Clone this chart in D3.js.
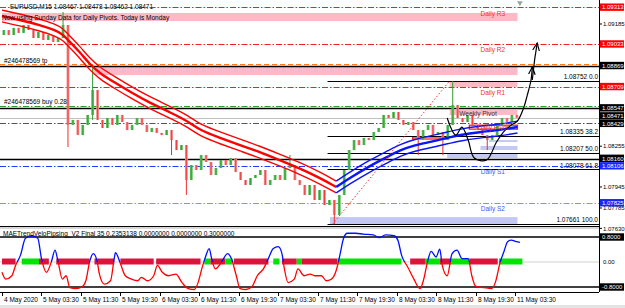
<!DOCTYPE html>
<html>
<head>
<meta charset="utf-8">
<script src="https://cdn.jsdelivr.net/npm/d3@7"></script>
<style>
    body { margin: 0; background: #fff; }
    svg text { font-family: "Liberation Sans", Arial, sans-serif; font-size: 6.5px; }
    svg text.axis-label { font-size: 6px; }
</style>
</head>
<body>
<div id="chart"></div>
<script>
// ---- data (EURUSD M15, bar index = 15 min bars from 4 May 19:30) ----
const timeLabels = ["4 May 2020", "5 May 03:30", "5 May 11:30", "5 May 19:30", "6 May 03:30", "6 May 11:30",
    "6 May 19:30", "7 May 03:30", "7 May 11:30", "7 May 19:30", "8 May 03:30", "8 May 11:30", "8 May 19:30", "11 May 03:30"];
const timeLabelBars = [0, 32, 64, 96, 128, 160, 192, 224, 256, 288, 320, 352, 384, 416];

// one drawn candle = 4 bars
const firstOpen = 1.09101;
const closes = [1.09139, 1.09101, 1.09155, 1.09117, 1.09177, 1.09139, 1.09078, 1.09124, 1.09063, 1.09101,
    1.09048, 1.09078, 1.09177, 1.08417, 1.08455, 1.08340, 1.08417, 1.08493, 1.08683, 1.08455,
    1.08394, 1.08470, 1.08417, 1.08493, 1.08439, 1.08378, 1.08417, 1.08470, 1.08417, 1.08363,
    1.08394, 1.08356, 1.08340, 1.08378, 1.08302, 1.08226, 1.08264, 1.07998, 1.08112, 1.08074,
    1.08188, 1.08135, 1.08036, 1.08089, 1.08150, 1.08112, 1.08165, 1.08059, 1.07998, 1.07960,
    1.08013, 1.08036, 1.08074, 1.07960, 1.07998, 1.08036, 1.07998, 1.08089, 1.08112, 1.07998,
    1.07960, 1.07884, 1.07960, 1.07846, 1.07922, 1.07808, 1.07846, 1.07732, 1.07884, 1.08074,
    1.08226, 1.08302, 1.08264, 1.08318, 1.08302, 1.08363, 1.08394, 1.08493, 1.08470, 1.08515,
    1.08455, 1.08417, 1.08439, 1.08378, 1.08302, 1.08378, 1.08417, 1.08340, 1.08363, 1.08302,
    1.08417, 1.08569, 1.08470, 1.08439, 1.08493, 1.08417, 1.08378, 1.08340, 1.08302, 1.08340,
    1.08417, 1.08470, 1.08439, 1.08493, 1.08471];
// [candle, high, low] for the long wicks
const wicks = [[12, 1.09276, 1.09078], [13, 1.09177, 1.08249], [18, 1.08850, 1.08455], [34, 1.08378, 1.08188],
    [37, 1.08264, 1.07884], [58, 1.08188, 1.08089], [67, 1.07846, 1.07661], [84, 1.08378, 1.08188],
    [89, 1.08363, 1.08188], [91, 1.08752, 1.08417], [98, 1.08340, 1.08226]];

const maRedBars = [0, 15, 31, 43, 49, 55, 63, 71, 79, 92, 104, 120, 136, 152, 160, 177, 193, 209, 225, 241, 258, 271];
const maRedVals = [1.09246, 1.09215, 1.09177, 1.09139, 1.09109, 1.09048, 1.08972, 1.08881, 1.08812, 1.08736, 1.08668,
    1.08584, 1.08515, 1.08439, 1.08378, 1.08318, 1.08264, 1.08211, 1.08150, 1.08089, 1.08013, 1.07945];
const maBlueBars = [271, 282, 298, 314, 323, 335, 347, 361, 371, 387, 404, 418];
const maBlueVals = [1.07945, 1.08013, 1.08104, 1.08181, 1.08226, 1.08264, 1.08287, 1.08318, 1.08340, 1.08363, 1.08378, 1.08401];
const maEnvelope = 0.00045;

const pivotNames = ["Daily R3", "Daily R2", "Daily R1", "Daily S1", "Daily S2"];
const pivotValues = [1.09313, 1.09033, 1.08709, 1.08106, 1.07825];
const dailyPivot = 1.08400;
const weeklyPivot = 1.08429;
const bidPrice = 1.08471;
const tpPrice = 1.08869;
const tpOrderLine = 1.08882;
const buyPrice = 1.08547;
const buyOrderLine = 1.08560;
const userLine = 1.08160;
const orderTicket = "#246478569";

const fibLevels = [0.0, 38.2, 50.0, 61.8, 100.0];
const fibPrices = [1.08752, 1.08335, 1.08207, 1.08078, 1.07661];
const fibStartBar = 264;
const fibTrend = [[268, 1.07661], [363, 1.08752]];

// [fromBar, toBar, priceTop, priceBottom]
const pinkZones = [[0, 418, 1.09269, 1.09208], [74, 418, 1.08865, 1.08797], [363, 418, 1.08751, 1.08706], [363, 418, 1.08531, 1.08493]];
const blueZones = [[266, 418, 1.07716, 1.07663], [361, 418, 1.08203, 1.08165], [388, 418, 1.08257, 1.08226], [395, 418, 1.08302, 1.08287]];
const redZones = [[333, 361, 1.08325, 1.08310], [379, 418, 1.08415, 1.08385]];

const sketchBars = [361, 368, 373, 378, 383, 393, 401, 408, 413, 418, 423, 426, 429, 430];
const sketchVals = [1.08470, 1.08340, 1.08401, 1.08302, 1.08165, 1.08150, 1.08287, 1.08378, 1.08417, 1.08447, 1.08546, 1.08645, 1.08759, 1.08858];
const arrowBars = [430, 432, 434];
const arrowVals = [1.08759, 1.08920, 1.09040];

const axisTicks = [1.09185, 1.08255, 1.07945, 1.07785, 1.07630];
const axisBoxes = [1.09313, 1.09033, 1.08869, 1.08709, 1.08547, 1.08471, 1.08429, 1.08160, 1.08106, 1.07825];
const axisBoxKinds = ["r", "r", "k", "r", "k", "k", "k", "k", "b", "b"];

const oscName = "MAETrendVeloPipsing_V2 Final 35 0.2353138 0.0000000 0.0000000 0.3000000";
const oscBars = [0, 3, 8, 11, 15, 19, 24, 29, 32, 36, 40, 43, 45, 49, 52, 55, 60, 65, 68, 71, 74, 77, 79, 83, 88, 91, 92, 96, 100, 105,
    110, 113, 118, 123, 126, 130, 135, 141, 146, 151, 156, 159, 162, 165, 168, 170, 173, 178, 183, 186, 190, 193, 198, 203, 207,
    212, 216, 220, 224, 227, 229, 232, 237, 240, 245, 250, 254, 259, 263, 267, 271, 274, 277, 280, 287, 293, 301, 306, 311, 318,
    321, 324, 329, 334, 339, 342, 345, 348, 352, 355, 357, 361, 365, 369, 373, 378, 381, 384, 391, 397, 400, 404, 407, 410, 413, 417, 420];
const oscVals = [-0.33, -0.55, -0.44, -0.11, 0.22, 0.76, 0.84, 0.76, 0.11, -0.33, 0, 0.38, 0.11, -0.55, -0.44, -0.82, -0.85, -0.79, -0.6, 0,
    0.27, 0.05, -0.39, -0.71, -0.6, 0.11, 0.3, -0.05, -0.44, -0.55, -0.6, -0.49, -0.6, -0.44, -0.11, -0.33, -0.44, -0.39, -0.66, -0.85,
    -0.88, -0.66, -0.22, 0.16, 0.43, 0.11, -0.22, 0, 0.27, 0.11, -0.44, -0.85, -0.88, -0.77, -0.44, -0.22, 0.11, 0.43, 0.49, 0.27,
    -0.22, -0.66, -0.55, -0.22, -0.44, -0.39, -0.44, -0.44, -0.6, -0.55, -0.27, 0.22, 0.76, 0.92, 0.92, 0.89, 0.87, 0.78, 0.87, 0.84,
    0.7, 0.22, -0.16, -0.55, -0.85, -0.55, 0, 0.34, 0.16, 0.41, -0.11, -0.44, 0.27, 0.38, 0.11, 0.11, -0.44, -0.77, -0.82, -0.85,
    -0.66, 0, 0.33, 0.65, 0.7, 0.65, 0.63];
// [fromBar, toBar, direction]
const trendBlocks = [[0, 10, -1], [16, 29, 1], [30, 37, -1], [44, 70, -1], [75, 90, -1], [96, 122, -1], [125, 160, -1],
    [164, 168, 1], [169, 180, -1], [181, 186, 1], [188, 215, -1], [220, 224, 1], [227, 238, -1], [239, 242, 1], [243, 271, -1],
    [272, 323, 1], [331, 342, -1], [343, 354, 1], [355, 363, -1], [364, 378, 1], [379, 401, -1], [403, 421, 1]];
const oscLevels = [0.8, -0.8];


class MtChart {

    constructor(parentElement) {
        this._parentElement = parentElement;
        this.initVis();
    }

    initVis() {
        let vis = this;
        vis.width = 625;
        vis.height = 308;
        vis.right = 599;
        vis.mainBottom = 226;

        vis.svg = d3.select("#" + vis._parentElement).append("svg")
            .attr("width", vis.width)
            .attr("height", vis.height);

        vis.x = d3.scaleLinear().domain([0, 416]).range([2, 515]);
        vis.y = d3.scaleLinear().domain([1.07648, 1.093676]).range([vis.mainBottom, 0]);
        vis.yOsc = d3.scaleLinear().domain([-0.8, 0.8]).range([287, 237]);

        let defs = vis.svg.append("defs");
        defs.append("clipPath").attr("id", "mainClip")
            .append("rect").attr("x", 0).attr("y", 0).attr("width", vis.right).attr("height", vis.mainBottom);
        defs.append("clipPath").attr("id", "oscClip")
            .append("rect").attr("x", 0).attr("y", 229).attr("width", vis.right).attr("height", 63);
        defs.append("clipPath").attr("id", "posClip")
            .append("rect").attr("x", 0).attr("y", 229).attr("width", vis.right).attr("height", vis.yOsc(0) - 229);
        defs.append("clipPath").attr("id", "negClip")
            .append("rect").attr("x", 0).attr("y", vis.yOsc(0)).attr("width", vis.right).attr("height", 292 - vis.yOsc(0));
        defs.append("marker").attr("id", "arrow")
            .attr("viewBox", "0 0 10 10").attr("refX", 9).attr("refY", 5)
            .attr("markerWidth", 7).attr("markerHeight", 7).attr("orient", "auto")
            .append("path").attr("d", "M0,1 L9,5 L0,9").attr("fill", "none").attr("stroke", "#000").attr("stroke-width", 1.4);

        vis.main = vis.svg.append("g").attr("clip-path", "url(#mainClip)");
        vis.osc = vis.svg.append("g").attr("clip-path", "url(#oscClip)");

        vis.drawMain();
        vis.drawOsc();
        vis.drawAxes();
    }

    hline(price, color, dash, width, fromBar) {
        let vis = this;
        let x0 = fromBar === undefined ? 0 : vis.x(fromBar);
        vis.main.append("line")
            .attr("x1", x0).attr("x2", vis.right)
            .attr("y1", Math.round(vis.y(price)) + 0.5).attr("y2", Math.round(vis.y(price)) + 0.5)
            .attr("stroke", color).attr("stroke-width", width)
            .attr("stroke-dasharray", dash);
    }

    drawMain() {
        let vis = this;
        const dashdot = "6,2,1.5,2";

        // zones
        let zone = (z, fill) => vis.main.append("rect")
            .attr("x", vis.x(z[0])).attr("width", vis.x(z[1]) - vis.x(z[0]))
            .attr("y", vis.y(z[2])).attr("height", vis.y(z[3]) - vis.y(z[2]))
            .attr("fill", fill);
        pinkZones.forEach(z => zone(z, "#ffb9c4"));
        blueZones.forEach(z => zone(z, "#c3c9f2"));
        redZones.forEach(z => zone(z, "none").attr("stroke", "#ff2020").attr("stroke-width", 1.3));

        // horizontal levels
        pivotValues.forEach((p, i) => {
            let c = i < 3 ? "#f02020" : (i === 3 ? "#1f3cff" : "#8c8cf5");
            vis.hline(p, c, dashdot, 1);
        });
        vis.hline(tpOrderLine, "#ff7a1a", "5,3", 1);
        vis.hline(tpPrice, "#000", null, 1.3);
        vis.hline(buyOrderLine, "#2aa02a", dashdot, 1);
        vis.hline(buyPrice, "#000", null, 1.3);
        vis.hline(bidPrice, "#c0c0c0", null, 1);
        vis.hline(weeklyPivot, "#555", dashdot, 1);
        vis.hline(userLine, "#000", null, 1.3);
        fibPrices.forEach(p => vis.hline(p, "#000", null, 1.2, fibStartBar));

        // candles
        let opens = closes.map((c, i) => i === 0 ? firstOpen : closes[i - 1]);
        let candles = closes.map((c, i) => ({k: i, open: opens[i], close: c}));
        let wickMap = new Map(wicks.map(w => [w[0], w]));
        let cg = vis.main.append("g");
        candles.forEach(d => {
            let up = d.close >= d.open;
            let cx = vis.x(d.k * 4 + 1.5);
            let top = vis.y(Math.max(d.open, d.close));
            let bot = vis.y(Math.min(d.open, d.close));
            if (wickMap.has(d.k)) {
                let w = wickMap.get(d.k);
                cg.append("line")
                    .attr("x1", cx).attr("x2", cx)
                    .attr("y1", vis.y(w[1])).attr("y2", vis.y(w[2]))
                    .attr("stroke", up ? "#2d9b2d" : "#ee2c2c").attr("stroke-width", 1);
            }
            cg.append("rect")
                .attr("x", cx - 1.4).attr("width", 2.8)
                .attr("y", top).attr("height", Math.max(1, bot - top))
                .attr("fill", up ? "#5cbf5c" : "#f58a8a");
            cg.append("line")
                .attr("x1", cx).attr("x2", cx)
                .attr("y1", top).attr("y2", top + Math.max(1, bot - top))
                .attr("stroke", up ? "#2d9b2d" : "#ee2c2c").attr("stroke-width", 0.8);
        });

        // envelope moving averages
        let maLine = (bars, vals, off) => d3.line()
            .x((d, i) => vis.x(bars[i]))
            .y((d, i) => vis.y(vals[i] + off))
            .curve(d3.curveBasis)(vals);
        [[maRedBars, maRedVals, "#ff0000"], [maBlueBars, maBlueVals, "#0a14ff"]].forEach(s => {
            [-maEnvelope, 0, maEnvelope].forEach(off => {
                vis.main.append("path")
                    .attr("d", maLine(s[0], s[1], off))
                    .attr("fill", "none").attr("stroke", s[2])
                    .attr("stroke-width", off === 0 ? 2.4 : 1.4);
            });
        });

        // fibonacci
        vis.main.append("line")
            .attr("x1", vis.x(fibTrend[0][0])).attr("y1", vis.y(fibTrend[0][1]))
            .attr("x2", vis.x(fibTrend[1][0])).attr("y2", vis.y(fibTrend[1][1]))
            .attr("stroke", "#ff3030").attr("stroke-width", 1).attr("stroke-dasharray", "1.5,2");
        fibPrices.forEach((p, i) => {
            vis.main.append("text")
                .attr("x", vis.right - 1).attr("y", vis.y(p) - 1.8)
                .attr("text-anchor", "end").attr("fill", "#000")
                .text(p.toFixed(5) + "  " + fibLevels[i].toFixed(1));
        });

        // hand drawn path + arrows
        vis.main.append("path")
            .attr("d", d3.line().x((d, i) => vis.x(sketchBars[i])).y(d => vis.y(d)).curve(d3.curveCatmullRom)(sketchVals))
            .attr("fill", "none").attr("stroke", "#000").attr("stroke-width", 1.2)
            .attr("marker-end", "url(#arrow)");
        vis.main.append("path")
            .attr("d", d3.line().x((d, i) => vis.x(arrowBars[i])).y(d => vis.y(d))(arrowVals))
            .attr("fill", "none").attr("stroke", "#000").attr("stroke-width", 1.2)
            .attr("marker-end", "url(#arrow)");

        // level labels
        pivotNames.forEach((n, i) => {
            vis.main.append("text")
                .attr("x", vis.x(398)).attr("y", vis.y(pivotValues[i]) + 8.5)
                .attr("text-anchor", "middle")
                .attr("fill", i < 3 ? "#f03030" : "#3a5cff")
                .text(n);
        });
        vis.main.append("text")
            .attr("x", vis.x(386)).attr("y", vis.y(weeklyPivot) - 7)
            .attr("text-anchor", "middle").attr("fill", "#333")
            .text("Weekly Pivot");
        vis.main.append("text")
            .attr("x", vis.x(398)).attr("y", vis.y(dailyPivot) + 3)
            .attr("text-anchor", "middle").attr("fill", "#e02020")
            .text("Daily Pivot");
        vis.main.append("text").attr("x", 4).attr("y", vis.y(tpPrice) - 3)
            .text(orderTicket + " tp");
        vis.main.append("text").attr("x", 4).attr("y", vis.y(buyOrderLine) - 2)
            .text(orderTicket + " buy 0.28");

        vis.main.append("text").attr("x", 10).attr("y", 9)
            .text("EURUSD,M15  1.08467 1.08478 1.08462 " + bidPrice.toFixed(5));
        vis.main.append("text").attr("x", 2).attr("y", 19.5)
            .text("Now using Sunday Data for Daily Pivots.  Today is Monday");
        vis.main.append("path")
            .attr("d", d3.symbol(d3.symbolTriangle, 14)())
            .attr("transform", `translate(${vis.x(420)},3) rotate(180)`)
            .attr("fill", "#a0a0a0");
    }

    drawOsc() {
        let vis = this;
        let z = vis.yOsc(0);

        vis.osc.append("line")
            .attr("x1", 0).attr("x2", vis.right).attr("y1", z).attr("y2", z)
            .attr("stroke", "#d0d0d0").attr("stroke-width", 1);
        oscLevels.forEach(l => {
            vis.osc.append("line")
                .attr("x1", 0).attr("x2", vis.right)
                .attr("y1", vis.yOsc(l)).attr("y2", vis.yOsc(l))
                .attr("stroke", "#000").attr("stroke-width", 1.5);
        });

        vis.osc.selectAll(".block")
            .data(trendBlocks)
            .enter().append("rect")
            .attr("class", "block")
            .attr("x", d => vis.x(d[0]))
            .attr("width", d => vis.x(d[1] + 1) - vis.x(d[0]))
            .attr("y", z - 3.5).attr("height", 6)
            .attr("fill", d => d[2] > 0 ? "#00e400" : "#dc143c");

        let line = d3.line()
            .x((d, i) => vis.x(oscBars[i]))
            .y(d => vis.yOsc(d))
            .curve(d3.curveMonotoneX);
        vis.osc.append("path").attr("d", line(oscVals)).attr("clip-path", "url(#posClip)")
            .attr("fill", "none").attr("stroke", "#0010ff").attr("stroke-width", 1.3);
        vis.osc.append("path").attr("d", line(oscVals)).attr("clip-path", "url(#negClip)")
            .attr("fill", "none").attr("stroke", "#ff0000").attr("stroke-width", 1.3);

        vis.osc.append("text").attr("x", 3).attr("y", 236).text(oscName);
    }

    drawAxes() {
        let vis = this;
        let g = vis.svg.append("g");

        // frames
        g.append("line").attr("x1", vis.right + 0.5).attr("x2", vis.right + 0.5).attr("y1", 0).attr("y2", 292)
            .attr("stroke", "#000");
        g.append("rect").attr("x", 0).attr("y", 226).attr("width", vis.right).attr("height", 3).attr("fill", "#d8d8d8");
        g.append("line").attr("x1", 0).attr("x2", vis.right).attr("y1", 226.5).attr("y2", 226.5).attr("stroke", "#000");
        g.append("line").attr("x1", 0).attr("x2", vis.right).attr("y1", 292.5).attr("y2", 292.5).attr("stroke", "#000");
        g.append("rect").attr("x", 0).attr("y", 305).attr("width", vis.width).attr("height", 3).attr("fill", "#e4e4e4");

        // price scale ticks
        axisTicks.forEach(p => {
            let yy = vis.y(p);
            g.append("line").attr("x1", vis.right).attr("x2", vis.right + 3).attr("y1", yy).attr("y2", yy).attr("stroke", "#000");
            g.append("text").attr("class", "axis-label").attr("x", vis.right + 4).attr("y", yy + 2.2).text(p.toFixed(5));
        });

        // boxed labels, pushed apart so they do not overlap
        let boxes = axisBoxes.map((p, i) => ({p: p, kind: axisBoxKinds[i], y: vis.y(p)}))
            .sort((a, b) => a.y - b.y);
        for (let i = boxes.length - 2; i >= 0; i--) {
            if (boxes[i].y > boxes[i + 1].y - 7.5) boxes[i].y = boxes[i + 1].y - 7.5;
        }
        let fills = {r: "#ff0000", k: "#000000", b: "#1428ff"};
        boxes.forEach(b => {
            g.append("rect").attr("x", vis.right + 1).attr("y", b.y - 3.7).attr("width", 24).attr("height", 7.4)
                .attr("fill", fills[b.kind]);
            g.append("text").attr("class", "axis-label").attr("x", vis.right + 3).attr("y", b.y + 2.2)
                .attr("fill", "#fff").text(b.p.toFixed(5));
        });

        // indicator scale
        oscLevels.forEach(l => {
            let yy = vis.yOsc(l);
            g.append("rect").attr("x", vis.right + 1).attr("y", yy - 3.7).attr("width", 24).attr("height", 7.4).attr("fill", "#000");
            g.append("text").attr("class", "axis-label").attr("x", vis.right + 3).attr("y", yy + 2.2)
                .attr("fill", "#fff").text(l.toFixed(4));
        });
        g.append("text").attr("class", "axis-label").attr("x", vis.right + 4).attr("y", vis.yOsc(0) + 2.2).text((0).toFixed(2));

        // time scale
        timeLabelBars.forEach((b, i) => {
            let xx = Math.round(vis.x(b)) + 0.5;
            g.append("line").attr("x1", xx).attr("x2", xx).attr("y1", 292).attr("y2", 296).attr("stroke", "#000");
            g.append("text").attr("x", xx + 1.5).attr("y", 301.5).text(timeLabels[i]);
        });
    }
}

new MtChart("chart");
</script>
</body>
</html>
